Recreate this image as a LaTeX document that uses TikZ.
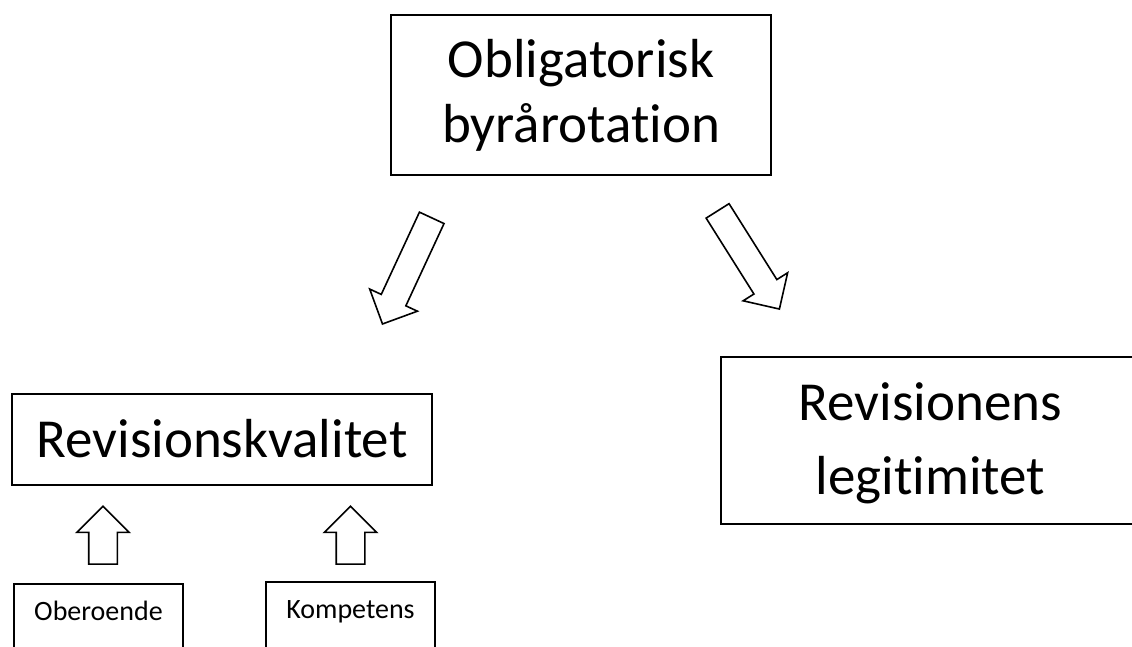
\documentclass[tikz,border=0pt]{standalone}
\usepackage{fontspec}
\setmainfont{Carlito}[Ligatures={NoCommon}]
\usetikzlibrary{shapes,arrows.meta,positioning}

\begin{document}
\begin{tikzpicture}[x=1pt, y=-1pt,
    box/.style={draw, line width=1.6pt, align=center, inner sep=0pt},
    smallbox/.style={draw, line width=1.6pt, anchor=north, minimum width=169pt,
      inner xsep=0pt, inner ysep=17pt, text height=20pt, text depth=60pt,
      font=\fontsize{28}{34}\selectfont},
    blockarrow/.style={single arrow, draw, line width=1.6pt, anchor=tip, inner xsep=0pt,
      inner ysep=12.75pt, single arrow head extend=12.75pt}]

      \path[use as bounding box, clip] (0,0) rectangle (1132,646);

      \node[box, minimum width=380pt, minimum height=160pt, text height=105pt, text depth=11pt,
        font=\fontsize{55}{65}\selectfont] (rotation) at (581,95)
        {Obligatorisk\\byrårotation};

      \node[box, minimum width=420pt, minimum height=91pt, text height=38pt, text depth=3pt,
        font=\fontsize{55}{65}\selectfont] (kvalitet) at (222,439.5)
        {Revisionskvalitet};

      \node[box, minimum width=419pt, minimum height=167pt, text height=118pt, text depth=11pt,
        font=\fontsize{55}{74}\selectfont] (legitimitet) at (930.5,440.5)
        {Revisionens\\legitimitet};

      \node[smallbox] (oberoende) at (98.5,583) {Oberoende};
      \node[smallbox] (kompetens) at (350.5,581) {Kompetens};

      % block arrows
      \node[blockarrow, minimum height=117pt, rotate=245.1] (arrowL) at (382,325) {};
      \node[blockarrow, minimum height=116pt, rotate=302.2] (arrowR) at (780,310) {};

      \node[blockarrow, minimum height=58pt, inner ysep=13.5pt, single arrow head extend=12pt, rotate=90] (arrowO) at (103,505) {};
      \node[blockarrow, minimum height=58pt, inner ysep=13.5pt, single arrow head extend=12pt, rotate=90] (arrowK) at (350.5,505) {};

    \end{tikzpicture}
\end{document}
